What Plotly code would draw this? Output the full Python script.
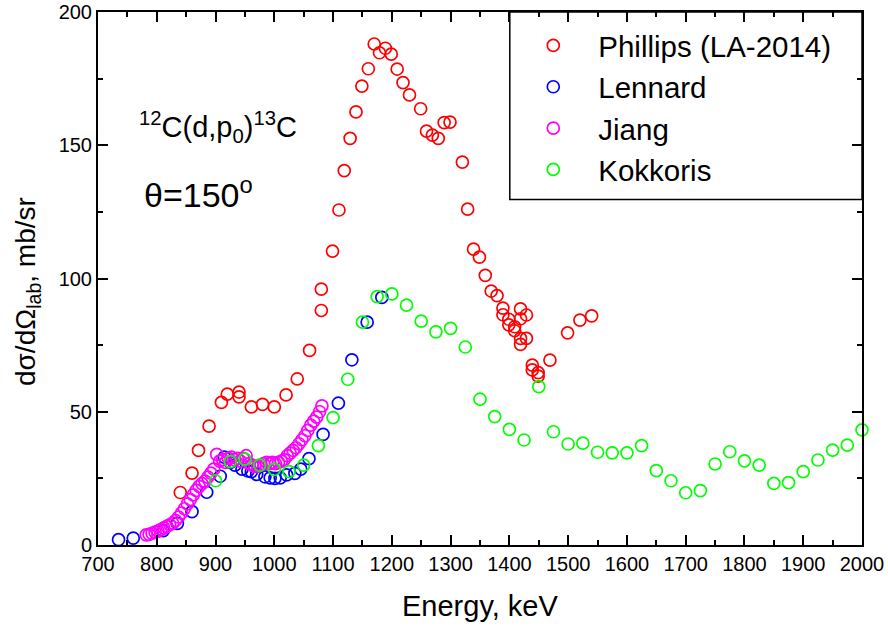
import plotly.graph_objects as go

# Phillips (LA-2014)
phillips_e = [840, 860, 871, 889, 910, 920, 940, 940, 961, 980, 1000, 1020, 1039, 1060,
              1080, 1080, 1099, 1110, 1119, 1129, 1139, 1149, 1160, 1170, 1179, 1189, 1199,
              1209, 1219, 1230, 1249, 1259, 1269, 1279, 1289, 1299, 1320, 1329, 1339, 1349,
              1359, 1369, 1379, 1389, 1389, 1399, 1399, 1409, 1409, 1419, 1419, 1419, 1419,
              1429, 1429, 1439, 1439, 1449, 1449, 1469, 1499, 1520, 1540]
phillips_y = [19.7, 27, 35.5, 44.6, 53.5, 56.6, 57.4, 55.6, 51.8, 52.8, 51.8, 56.3, 62.3, 73,
              88, 96, 110.3, 125.7, 140.5, 152.6, 162.5, 172.2, 178.7, 188, 184.7, 186.4, 184.2,
              178.6, 173.5, 168.9, 163.7, 155.3, 153.8, 152.6, 158.5, 158.7, 143.7, 126, 111, 108,
              101.2, 95.3, 93.6, 88.9, 86.4, 84.7, 82.6, 81.9, 80.4, 88.6, 84.9, 77.5, 75.3,
              86.3, 77.5, 67.5, 65.7, 64.7, 63.4, 69.4, 79.6, 84.4, 86]

# Lennard
lennard_e = [735, 760, 811, 835, 860, 885, 908, 915, 925, 933, 945, 955, 961, 970, 984, 993,
             1001, 1010, 1021, 1035, 1045, 1059, 1083, 1109, 1132, 1158, 1183]
lennard_y = [2.0, 2.6, 5.4, 8.1, 12.5, 19.8, 25.8, 33, 31, 30, 28.5, 27.8, 27.5, 26.5, 25.6, 25.2,
             25.0, 25.2, 26.3, 26.9, 28.5, 32.4, 41.5, 53.2, 69.5, 83.6, 92.9]

# Jiang
jiang_e = [782, 787, 792, 797, 802, 807, 812, 817, 822, 827, 832, 837, 842, 847, 852, 857,
           862, 867, 872, 877, 882, 887, 892, 897, 902, 907, 912, 917, 922, 927, 932, 937,
           942, 947, 952, 957, 962, 967, 972, 977, 982, 987, 992, 997, 1002, 1007, 1012, 1017,
           1022, 1027, 1032, 1037, 1042, 1047, 1052, 1057, 1062, 1067, 1072, 1077, 1081]
jiang_y = [3.8, 4.0, 4.4, 4.8, 5.2, 5.8, 6.4, 7.0, 7.6, 8.2, 9.2, 10.5, 12.0, 13.6, 15.4, 17.0,
           18.8, 20.5, 22.0, 23.0, 24.0, 25.5, 27.0, 28.5, 34.0, 31.5, 32.0, 31.0, 32.5, 33.0, 32.0, 32.5,
           31.5, 32.5, 33.5, 30.5, 30.0, 29.5, 29.5, 30.0, 30.5, 31.0, 30.5, 31.0, 30.5, 31.0, 31.5, 32.0,
           33.5, 34.5, 35.5, 36.5, 38.0, 39.5, 41.0, 43.0, 45.0, 46.5, 48.0, 50.0, 52.2]

# Kokkoris
kokkoris_e = [900, 925, 950, 975, 1000, 1025, 1050, 1075, 1100, 1125, 1150, 1175, 1200, 1225,
              1250, 1275, 1300, 1325, 1350, 1375, 1400, 1425, 1450, 1475, 1500, 1525, 1550,
              1575, 1600, 1625, 1650, 1675, 1700, 1725, 1750, 1775, 1800, 1825, 1850, 1875,
              1900, 1925, 1950, 1975, 2000]
kokkoris_y = [24.1, 31.3, 32.2, 30.0, 28.4, 27.5, 30.0, 37.3, 47.8, 62.2, 83.6, 93.2, 94.2, 90.0,
              84.0, 80.0, 81.3, 74.3, 54.7, 48.2, 43.4, 39.4, 59.4, 42.5, 37.9, 38.2, 34.8,
              34.6, 34.6, 37.3, 27.9, 24.1, 19.6, 20.4, 30.4, 35.0, 31.6, 30.0, 23.1, 23.4,
              27.5, 31.9, 35.6, 37.5, 43.2]

FONT = "Liberation Sans, Arial, sans-serif"

series = [
    ("Phillips (LA-2014)", phillips_e, phillips_y, "#ff0000"),
    ("Lennard", lennard_e, lennard_y, "#0000ff"),
    ("Jiang", jiang_e, jiang_y, "#ff00ff"),
    ("Kokkoris", kokkoris_e, kokkoris_y, "#00ff00"),
]

fig = go.Figure()
for name, xs, ys, col in series:
    fig.add_trace(go.Scatter(
        x=xs, y=ys, mode="markers", name=name, cliponaxis=False,
        marker=dict(symbol="circle-open", size=12, color=col, line=dict(width=1.7, color=col)),
    ))

axis_common = dict(
    showgrid=False, zeroline=False, showline=True, linecolor="black", linewidth=2,
    mirror="allticks", ticks="inside", ticklen=10, tickwidth=2, tickcolor="black",
    tickfont=dict(family=FONT, size=20, color="black"), automargin=False,
)

fig.update_xaxes(range=[700, 2000], dtick=100, tick0=700,
                 minor=dict(dtick=50, ticks="inside", ticklen=5, tickwidth=1.5, tickcolor="black"),
                 **axis_common)
fig.update_yaxes(range=[0, 200], dtick=50, tick0=0,
                 minor=dict(dtick=25, ticks="inside", ticklen=5, tickwidth=1.5, tickcolor="black"),
                 **axis_common)

# legend frame
fig.add_shape(type="rect", xref="paper", yref="paper", x0=0.539, x1=1.0, y0=0.648, y1=1.0,
              line=dict(color="black", width=1.5), fillcolor="rgba(0,0,0,0)")

fig.update_layout(
    width=888, height=626,
    margin=dict(l=98, r=26, t=12, b=81),
    plot_bgcolor="white", paper_bgcolor="white",
    font=dict(family=FONT, color="black"),
    showlegend=True,
    legend=dict(x=0.537, y=0.9855, xanchor="left", yanchor="top",
                bgcolor="rgba(0,0,0,0)", borderwidth=0,
                font=dict(family=FONT, size=29.5, color="black"),
                itemwidth=80),
    annotations=[
        dict(text="<sup>12</sup>C(d,p<sub>0</sub>)<sup>13</sup>C", xref="paper", yref="paper",
             x=0.051, y=0.785, xanchor="left", yanchor="middle", showarrow=False,
             font=dict(family=FONT, size=29, color="black")),
        dict(text="θ=150<sup>o</sup>", xref="paper", yref="paper",
             x=0.058, y=0.662, xanchor="left", yanchor="middle", showarrow=False,
             font=dict(family=FONT, size=34, color="black")),
        dict(text="Energy, keV", xref="paper", yref="paper",
             x=0.5, y=-0.114, xanchor="center", yanchor="middle", showarrow=False,
             font=dict(family=FONT, size=29, color="black")),
        dict(text="dσ/dΩ<sub>lab</sub>, mb/sr", xref="paper", yref="paper",
             x=-0.092, y=0.476, xanchor="center", yanchor="middle", showarrow=False,
             textangle=-90, font=dict(family=FONT, size=28, color="black")),
    ],
)

# the page's default body margin would shift the figure by 8 px
fig.write_html("out.html", config={"displayModeBar": False},
               post_script="document.body.style.margin = '0px';")
